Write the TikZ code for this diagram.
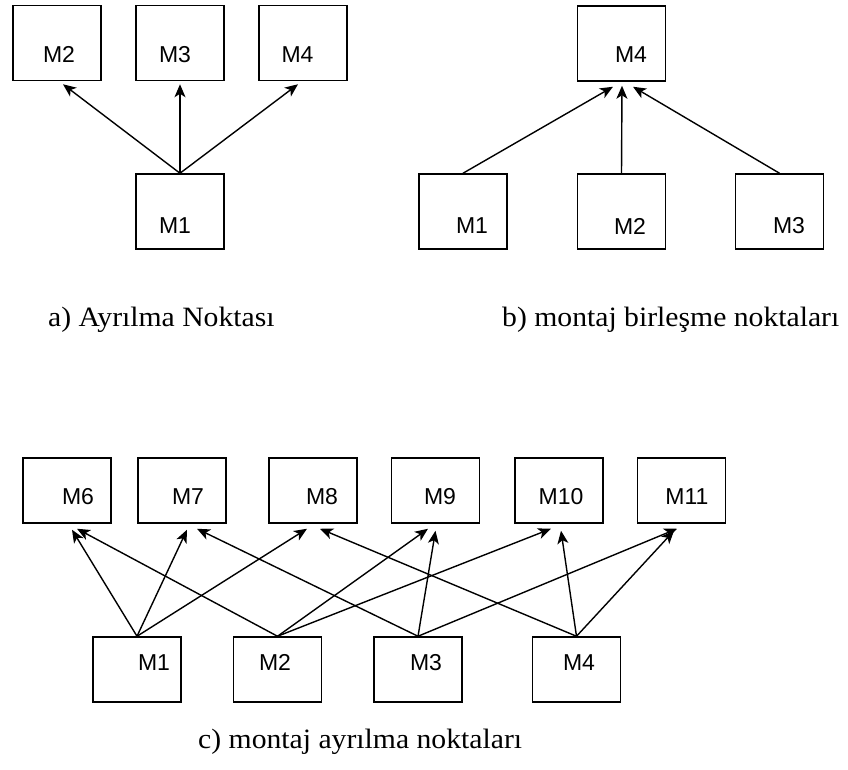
\documentclass[tikz,border=0pt]{standalone}
\usepackage{fontspec}
\setmainfont{Liberation Serif}
\newfontfamily\labelfont{Liberation Sans}
\usetikzlibrary{arrows.meta,calc}

\tikzset{
  mbox/.style={draw, line width=1.5pt, minimum width=88pt, minimum height=75pt, inner sep=0pt},
  sbox/.style={mbox, minimum height=65pt},
  lbl/.style={font=\labelfont\fontsize{23}{23}\selectfont, inner sep=0pt},
  arr/.style={line width=1.4pt, -{Stealth[length=13pt,width=11pt,inset=3.5pt]}},
  captext/.style={font=\fontsize{28}{28}\selectfont, inner sep=0pt, anchor=base west}
}

\begin{document}
\begin{tikzpicture}[x=1pt,y=-1pt]
\useasboundingbox (0,0) rectangle (848,770);

% a) one part feeding three
\node[mbox, label={[lbl,xshift=2pt,yshift=-11.5pt]center:M2}] (a2) at (57,43) {};
\node[mbox, label={[lbl,xshift=-5pt,yshift=-11.5pt]center:M3}] (a3) at (180,43) {};
\node[mbox, label={[lbl,xshift=-5.5pt,yshift=-11.5pt]center:M4}] (a4) at (303,43) {};
\node[mbox, label={[lbl,xshift=-5pt,yshift=-14.5pt]center:M1}] (a1) at (180,211.5) {};
\draw[arr] (a1.north) -- ($(a2.south)+(6,3)$);
\draw[arr] (a1.north) -- ($(a3.south)+(0,3)$);
\draw[arr] (a1.north) -- ($(a4.south)+(-5,3)$);
\node[captext] (capa) at (48,326) {\scalebox{1.06}[1]{a) Ayrılma Noktası}};

% b) three parts joining into one
\node[mbox, label={[lbl,xshift=9.5pt,yshift=-11pt]center:M4}] (b4) at (621.5,43.5) {};
\node[mbox, label={[lbl,xshift=9pt,yshift=-14.5pt]center:M1}] (b1) at (463,211.5) {};
\node[mbox, label={[lbl,xshift=8.5pt,yshift=-14.5pt]center:M2}] (b2) at (621.5,211.5) {};
\node[mbox, label={[lbl,xshift=9.5pt,yshift=-14.5pt]center:M3}] (b3) at (779.5,211.5) {};
\draw[arr] (b1.north) -- ($(b4.south)+(-8.5,5)$);
\draw[arr] (b2.north) -- ($(b4.south)+(0.5,4)$);
\draw[arr] (b3.north) -- ($(b4.south)+(11.5,5)$);
\node[captext] (capb) at (502,326) {\scalebox{1.06}[1]{b) montaj birleşme noktaları}};

% c) four parts feeding six
\node[sbox, label={[lbl,xshift=11pt,yshift=-6pt]center:M6}] (c6) at (67,490.5) {};
\node[sbox, label={[lbl,xshift=6pt,yshift=-6pt]center:M7}] (c7) at (182,490.5) {};
\node[sbox, label={[lbl,xshift=9pt,yshift=-6pt]center:M8}] (c8) at (313,490.5) {};
\node[sbox, label={[lbl,xshift=4.5pt,yshift=-6pt]center:M9}] (c9) at (435.5,490.5) {};
\node[sbox, label={[lbl,xshift=2pt,yshift=-6pt]center:M10}] (c10) at (559,490.5) {};
\node[sbox, label={[lbl,xshift=5.5pt,yshift=-6pt]center:M11}] (c11) at (681.5,490.5) {};

\node[sbox, label={[lbl,xshift=17pt,yshift=7pt]center:M1}] (c1) at (137,669.5) {};
\node[sbox, label={[lbl,xshift=-2.5pt,yshift=7pt]center:M2}] (c2) at (277.5,669.5) {};
\node[sbox, label={[lbl,xshift=8pt,yshift=7pt]center:M3}] (c3) at (418,669.5) {};
\node[sbox, label={[lbl,xshift=2.5pt,yshift=7pt]center:M4}] (c4) at (576.5,669.5) {};

\draw[arr] (c1.north) -- ($(c6.south)+(5,6)$);
\draw[arr] (c1.north) -- ($(c7.south)+(5,6)$);
\draw[arr] (c1.north) -- ($(c8.south)+(-6,5)$);
\draw[arr] (c2.north) -- ($(c6.south)+(10,5)$);
\draw[arr] (c2.north) -- ($(c9.south)+(-7.5,5)$);
\draw[arr] (c2.north) -- ($(c10.south)+(-8,5)$);
\draw[arr] (c3.north) -- ($(c7.south)+(15,5)$);
\draw[arr] (c3.north) -- ($(c9.south)+(0,7)$);
\draw[arr] (c3.north) -- ($(c11.south)+(-4.5,5)$);
\draw[arr] (c4.north) -- ($(c8.south)+(7,5)$);
\draw[arr] (c4.north) -- ($(c10.south)+(2,7)$);
\draw[arr] (c4.north) -- ($(c11.south)+(-7.5,7)$);
\node[captext] (capc) at (198,748) {\scalebox{1.06}[1]{c) montaj ayrılma noktaları}};
\end{tikzpicture}
\end{document}
